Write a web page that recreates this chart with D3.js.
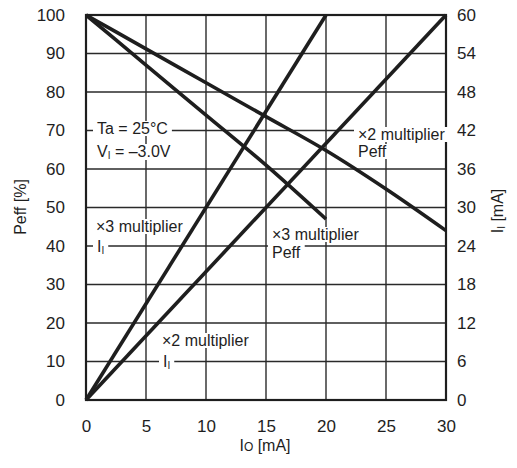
<!DOCTYPE html>
<html>
<head>
<meta charset="utf-8">
<script src="https://cdn.jsdelivr.net/npm/d3@7/dist/d3.min.js"></script>
<style>
body{margin:0;background:#fff}
text{font-family:"Liberation Sans",Arial,sans-serif;fill:#1e1e1e}
</style>
</head>
<body>
<div id="chart"></div>
<script>
// tick values
var xTicks = [0,5,10,15,20,25,30]
var yLeftTicks = [0,10,20,30,40,50,60,70,80,90,100]
var yRightTicks = [0,6,12,18,24,30,36,42,48,54,60]

// x2 multiplier Peff [%] vs Io
var ioX2 = [0,5,10,15,20,25,30]
var peffX2 = [100,91.2,82.4,73.6,64.8,54.8,44]
// x3 multiplier Peff [%] vs Io
var ioX3 = [0,5,10,15,20]
var peffX3 = [100,87,74,61,47]
// input current II [mA]
var iiIoX2 = [0,30]
var iiX2 = [0,60]
var iiIoX3 = [0,20]
var iiX3 = [0,60]

var W = 517, H = 468
var m = {left:86, top:15, right:71, bottom:68}
var w = W-m.left-m.right, h = H-m.top-m.bottom
var ink = "#1e1e1e"

var svg = d3.select("#chart").append("svg").attr("width",W).attr("height",H)
var g = svg.append("g").attr("transform","translate("+m.left+","+m.top+")")

var x = d3.scaleLinear().domain([0,30]).range([0,w])
var yL = d3.scaleLinear().domain([0,100]).range([h,0])
var yR = d3.scaleLinear().domain([0,60]).range([h,0])

// grid
g.selectAll(".vgrid").data(xTicks.slice(1,-1)).enter().append("line")
    .attr("x1",function(d){return x(d)}).attr("x2",function(d){return x(d)})
    .attr("y1",0).attr("y2",h)
    .attr("stroke","#2a2a2a").attr("stroke-width",1.4)
g.selectAll(".hgrid").data(yLeftTicks.slice(1,-1)).enter().append("line")
    .attr("y1",function(d){return yL(d)}).attr("y2",function(d){return yL(d)})
    .attr("x1",0).attr("x2",w)
    .attr("stroke","#2a2a2a").attr("stroke-width",1.4)

g.append("rect").attr("x",0).attr("y",0).attr("width",w).attr("height",h)
    .attr("fill","none").attr("stroke",ink).attr("stroke-width",2.2)

// axes (labels only)
var axL = g.append("g").call(d3.axisLeft(yL).tickValues(yLeftTicks).tickSize(0).tickPadding(21))
var axB = g.append("g").attr("transform","translate(0,"+h+")")
    .call(d3.axisBottom(x).tickValues(xTicks).tickSize(0).tickPadding(20))
var axR = g.append("g").attr("transform","translate("+w+",0)")
    .call(d3.axisRight(yR).tickValues(yRightTicks).tickSize(0).tickPadding(11))
;[axL,axB,axR].forEach(function(a){
    a.select(".domain").remove()
    a.selectAll("text").attr("font-size",17).attr("font-family","Liberation Sans, Arial, sans-serif").attr("fill",ink)
})

// axis titles
svg.append("text").attr("transform","translate(26,207) rotate(-90)")
    .attr("text-anchor","middle").attr("font-size",16).text("Peff [%]")
var rt = svg.append("text").attr("transform","translate(503,211) rotate(-90)")
    .attr("text-anchor","middle").attr("font-size",16)
rt.append("tspan").text("I")
rt.append("tspan").attr("font-size",10).attr("dy",2).text("I")
rt.append("tspan").attr("dy",-2).text(" [mA]")
var bt = svg.append("text").attr("x",265).attr("y",451).attr("text-anchor","middle").attr("font-size",16)
bt.append("tspan").text("I")
bt.append("tspan").attr("font-size",12).text("O")
bt.append("tspan").text(" [mA]")

// annotations with white box behind
var notes = g.append("g")
function note(px,py,parts){
    var t = notes.append("text").attr("x",px).attr("y",py).attr("font-size",16)
    parts.forEach(function(p){
        var s = t.append("tspan").text(p[0])
        if(p[1]=="sub") s.attr("font-size",10).attr("dy",2)
        if(p[1]=="back") s.attr("dy",-2)
    })
    var b = t.node().getBBox()
    notes.insert("rect","text").attr("x",b.x-4).attr("y",b.y+1).attr("width",b.width+8).attr("height",b.height-2)
        .attr("fill","#fff")
}
note(11,119,[["Ta = 25°C"]])
note(11,142,[["V"],["I","sub"],[" = –3.0V","back"]])
note(10,217,[["×3 multiplier"]])
note(11,237,[["I"],["I","sub"]])
note(76,331,[["×2 multiplier"]])
note(77,352,[["I"],["I","sub"]])
note(186,225,[["×3 multiplier"]])
note(186,243,[["Peff"]])
note(272,125,[["×2 multiplier"]])
note(272,142,[["Peff"]])

// data lines
var curve = function(xs,ys,ys_scale){
    return d3.line().curve(d3.curveMonotoneX)
        .x(function(d,i){return x(xs[i])})
        .y(function(d){return ys_scale(d)})(ys)
}
var series = [
    [ioX2,peffX2,yL],
    [ioX3,peffX3,yL],
    [iiIoX2,iiX2,yR],
    [iiIoX3,iiX3,yR]
]
g.selectAll(".data").data(series).enter().append("path")
    .attr("class","data")
    .attr("d",function(s){return curve(s[0],s[1],s[2])})
    .attr("fill","none").attr("stroke",ink).attr("stroke-width",3.6)
</script>
</body>
</html>
